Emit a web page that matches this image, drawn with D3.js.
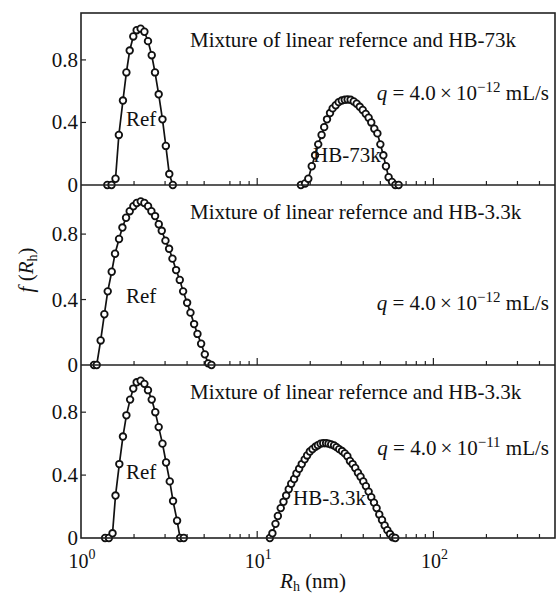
<!DOCTYPE html>
<html>
<head>
<meta charset="utf-8">
<script src="https://cdn.jsdelivr.net/npm/d3@7"></script>
<style>
  body { margin: 0; background: #fff; }
  text { font-family: "Liberation Serif", "Times New Roman", serif; fill: #111; }
</style>
</head>
<body>
<script>
// panel 1: linear reference + HB-73k
var ref1R = [1.41, 1.49, 1.57, 1.64, 1.73, 1.81, 1.89, 1.98, 2.07, 2.18, 2.29, 2.40, 2.52, 2.63, 2.76, 2.90, 3.03, 3.17, 3.32];
var ref1F = [0, 0, 0.04, 0.32, 0.54, 0.72, 0.86, 0.95, 0.99, 1.0, 0.98, 0.92, 0.83, 0.72, 0.58, 0.42, 0.25, 0.07, 0];
var hb73R = [17.7, 18.7, 19.5, 20.4, 21.3, 22.2, 23.2, 24.0, 24.9, 25.9, 26.8, 27.9, 29.0, 30.2, 31.4, 32.6, 33.9, 35.3, 36.7, 38.2,
  39.7, 41.3, 42.9, 44.4, 46.2, 48.1, 50.0, 52.0, 53.8, 55.7, 58.2, 60.8, 63.5];
var hb73F = [0, 0.01, 0.04, 0.12, 0.19, 0.26, 0.32, 0.37, 0.42, 0.46, 0.49, 0.51, 0.53, 0.54, 0.545, 0.547, 0.545, 0.534, 0.52, 0.50,
  0.48, 0.455, 0.43, 0.40, 0.36, 0.33, 0.26, 0.19, 0.12, 0.05, 0.02, 0, 0];

// panel 2: linear reference only
var ref2R = [1.185, 1.228, 1.293, 1.357, 1.418, 1.494, 1.560, 1.644, 1.718, 1.802, 1.890, 1.983, 2.072, 2.183, 2.290, 2.403, 2.509,
  2.633, 2.763, 2.873, 3.015, 3.162, 3.304, 3.465, 3.636, 3.798, 4.003, 4.181, 4.385, 4.581, 4.806, 5.043, 5.268, 5.502];
var ref2F = [0, 0, 0.15, 0.31, 0.45, 0.57, 0.68, 0.77, 0.84, 0.90, 0.94, 0.97, 0.99, 1.0, 0.99, 0.97, 0.94,
  0.91, 0.86, 0.82, 0.76, 0.71, 0.65, 0.58, 0.52, 0.45, 0.38, 0.32, 0.25, 0.19, 0.13, 0.065, 0.01, 0];

// panel 3: linear reference + HB-3.3k
var ref3R = [1.37, 1.44, 1.51, 1.57, 1.65, 1.73, 1.81, 1.90, 1.98, 2.07, 2.18, 2.29, 2.40, 2.52, 2.64, 2.76, 2.90, 3.04, 3.19, 3.33, 3.51, 3.65, 3.83];
var ref3F = [0, 0, 0.03, 0.27, 0.47, 0.645, 0.78, 0.88, 0.95, 0.99, 1.0, 0.98, 0.94, 0.88, 0.80, 0.705, 0.60, 0.48, 0.36, 0.235, 0.11, 0, 0];
var hb33R = [11.8, 12.2, 12.7, 13.1, 13.6, 14.1, 14.6, 15.1, 15.6, 16.2, 16.7, 17.3, 17.9, 18.6, 19.2, 19.9, 20.6, 21.4, 22.1, 22.9,
  23.7, 24.6, 25.4, 26.3, 27.3, 28.2, 29.2, 30.3, 31.4, 32.5, 33.6, 34.8, 36.0, 37.3, 38.6, 40.0, 41.4, 42.9, 44.4, 46.0,
  47.6, 49.3, 51.1, 52.9, 54.8, 56.7, 58.7, 60.8];
var hb33F = [0, 0.03, 0.09, 0.14, 0.19, 0.23, 0.27, 0.31, 0.345, 0.375, 0.41, 0.44, 0.47, 0.50, 0.525, 0.55, 0.565, 0.58, 0.59, 0.60,
  0.603, 0.603, 0.60, 0.595, 0.588, 0.578, 0.565, 0.553, 0.538, 0.52, 0.49, 0.47, 0.445, 0.415, 0.39, 0.36, 0.33, 0.295, 0.26, 0.225,
  0.19, 0.15, 0.115, 0.08, 0.05, 0.025, 0.005, 0];

var yTicks = [0, 0.4, 0.8];
var yTickLabels = ['0', '0.4', '0.8'];
var xMinorTicks = [2, 3, 4, 5, 7, 8, 9, 20, 30, 40, 50, 70, 80, 90, 200, 300, 400];
var xMajorTicks = [10, 100];
var xTickLabels = [{ v: 1, exp: '0' }, { v: 10, exp: '1' }, { v: 100, exp: '2' }];

var titles = ['Mixture of linear refernce and HB-73k', 'Mixture of linear refernce and HB-3.3k', 'Mixture of linear refernce and HB-3.3k'];
var flowExp = ['\u221212', '\u221212', '\u221211'];

var width = 557, height = 596;
var left = 81, right = 555;

var panels = [
  { top: 13, bottom: 185, qAt: 0.59, series: [[ref1R, ref1F], [hb73R, hb73F]] },
  { top: 185, bottom: 365, qAt: 0.38, series: [[ref2R, ref2F]] },
  { top: 365, bottom: 538, qAt: 0.57, series: [[ref3R, ref3F], [hb33R, hb33F]] }
];

var svg = d3.select('body').append('svg')
  .attr('width', width)
  .attr('height', height);

var x = d3.scaleLog().domain([1, 490]).range([left, right]);

panels.forEach(function(p, i) {
  var y = d3.scaleLinear().domain([0, 1.1]).range([p.bottom, p.top]);
  var g = svg.append('g');

  // inward ticks along the bottom
  g.selectAll('.minor').data(xMinorTicks).enter().append('line')
    .attr('x1', function(d) { return x(d); }).attr('x2', function(d) { return x(d); })
    .attr('y1', p.bottom).attr('y2', p.bottom - 4)
    .attr('stroke', '#222').attr('stroke-width', 1.2);
  g.selectAll('.major').data(xMajorTicks).enter().append('line')
    .attr('x1', function(d) { return x(d); }).attr('x2', function(d) { return x(d); })
    .attr('y1', p.bottom).attr('y2', p.bottom - 7)
    .attr('stroke', '#222').attr('stroke-width', 1.2);

  // y ticks and labels
  g.selectAll('.yt').data(yTicks.slice(1)).enter().append('line')
    .attr('x1', left).attr('x2', left + 5)
    .attr('y1', function(d) { return y(d); }).attr('y2', function(d) { return y(d); })
    .attr('stroke', '#222').attr('stroke-width', 1.2);
  g.selectAll('.yl').data(yTicks).enter().append('text')
    .attr('x', left - 3)
    .attr('y', function(d) { return y(d) + 7; })
    .attr('text-anchor', 'end')
    .style('font-size', '21px')
    .text(function(d, j) { return yTickLabels[j]; });

  var line = d3.line()
    .x(function(d) { return x(d[0]); })
    .y(function(d) { return y(d[1]); });

  p.series.forEach(function(s) {
    var pts = s[0].map(function(r, k) { return [r, s[1][k]]; });
    g.append('path').datum(pts)
      .attr('d', line)
      .attr('fill', 'none')
      .attr('stroke', '#111')
      .attr('stroke-width', 1.7);
    g.selectAll(null).data(pts).enter().append('circle')
      .attr('cx', function(d) { return x(d[0]); })
      .attr('cy', function(d) { return y(d[1]); })
      .attr('r', 3.3)
      .attr('fill', '#fff')
      .attr('stroke', '#111')
      .attr('stroke-width', 1.8);
  });

  // panel title
  g.append('text')
    .attr('x', 190).attr('y', p.top + 34)
    .style('font-size', '21px')
    .text(titles[i]);

  // Ref label
  g.append('text')
    .attr('x', 126).attr('y', y(0.42) + 7)
    .style('font-size', '21px')
    .text('Ref');

  // flow rate
  var q = g.append('text')
    .attr('x', 549).attr('y', y(p.qAt) + 7)
    .attr('text-anchor', 'end')
    .style('font-size', '21px');
  q.append('tspan').style('font-style', 'italic').text('q');
  q.append('tspan').text(' = 4.0\u2009\u00d7\u200910');
  q.append('tspan').attr('dy', -8).style('font-size', '15px').text(flowExp[i]);
  q.append('tspan').attr('dy', 8).text(' mL/s');
});

// HB labels
svg.append('text').attr('x', 313).attr('y', 162).style('font-size', '21px').text('HB-73k');
svg.append('text').attr('x', 293).attr('y', 505).style('font-size', '21px').text('HB-3.3k');

// frame and panel separators
svg.append('rect')
  .attr('x', left).attr('y', panels[0].top)
  .attr('width', right - left).attr('height', panels[2].bottom - panels[0].top)
  .attr('fill', 'none').attr('stroke', '#222').attr('stroke-width', 1.6);
svg.selectAll('.sep').data(panels.slice(0, 2)).enter().append('line')
  .attr('x1', left).attr('x2', right)
  .attr('y1', function(d) { return d.bottom; }).attr('y2', function(d) { return d.bottom; })
  .attr('stroke', '#222').attr('stroke-width', 1.6);

// x tick labels
xTickLabels.forEach(function(t) {
  var lab = svg.append('text')
    .attr('x', x(t.v) + 1).attr('y', 568)
    .attr('text-anchor', 'middle')
    .style('font-size', '20px');
  lab.append('tspan').text('10');
  lab.append('tspan').attr('dy', -9).style('font-size', '14px').text(t.exp);
});

// axis titles
var xt = svg.append('text')
  .attr('x', 313).attr('y', 588)
  .attr('text-anchor', 'middle')
  .style('font-size', '21px');
xt.append('tspan').style('font-style', 'italic').text('R');
xt.append('tspan').attr('dy', 3).style('font-size', '14px').text('h');
xt.append('tspan').attr('dy', -3).text(' (nm)');

var yt = svg.append('text')
  .attr('transform', 'translate(33,270) rotate(-90)')
  .attr('text-anchor', 'middle')
  .style('font-size', '21px');
yt.append('tspan').style('font-style', 'italic').text('f');
yt.append('tspan').text(' (');
yt.append('tspan').style('font-style', 'italic').text('R');
yt.append('tspan').attr('dy', 4).style('font-size', '14px').text('h');
yt.append('tspan').attr('dy', -4).text(')');
</script>
</body>
</html>
